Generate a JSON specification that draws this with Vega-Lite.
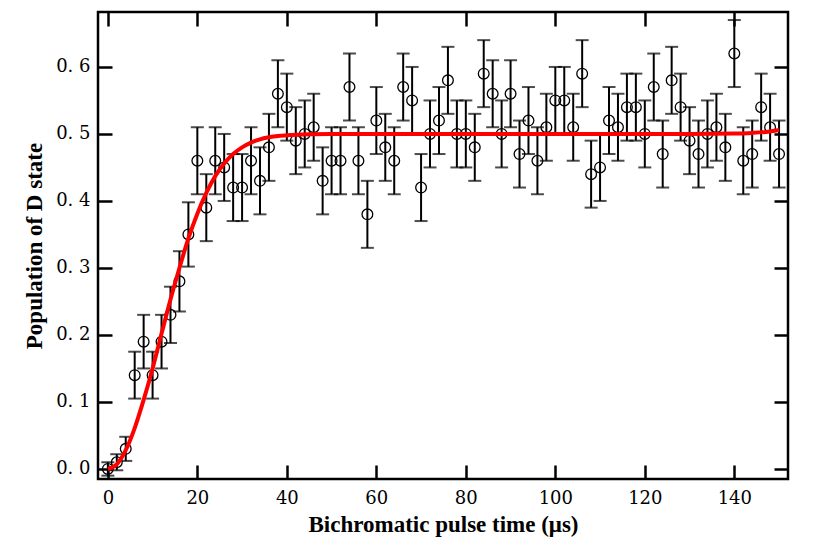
{
  "$schema": "https://vega.github.io/schema/vega-lite/v6.json",
  "width": 690,
  "height": 467,
  "autosize": "none",
  "padding": {"left": 98, "top": 12, "right": 42, "bottom": 75},
  "background": "white",
  "config": {
    "view": {"stroke": "black", "strokeWidth": 2.5},
    "axis": {
      "grid": false,
      "domain": false,
      "tickColor": "black",
      "tickWidth": 2.5,
      "tickSize": -14,
      "labelFont": "DejaVu Serif",
      "labelFontSize": 18,
      "labelColor": "black",
      "titleFont": "Liberation Serif",
      "titleFontWeight": "bold",
      "titleFontSize": 23,
      "titleColor": "black"
    }
  },
  "datasets": {
    "pts": [
      {"t": 0, "p": 0.00, "lo": -0.01, "hi": 0.01},
      {"t": 2, "p": 0.01, "lo": -0.002, "hi": 0.022},
      {"t": 4, "p": 0.03, "lo": 0.012, "hi": 0.048},
      {"t": 6, "p": 0.14, "lo": 0.105, "hi": 0.175},
      {"t": 8, "p": 0.19, "lo": 0.15, "hi": 0.23},
      {"t": 10, "p": 0.14, "lo": 0.105, "hi": 0.175},
      {"t": 12, "p": 0.19, "lo": 0.15, "hi": 0.23},
      {"t": 14, "p": 0.23, "lo": 0.188, "hi": 0.272},
      {"t": 16, "p": 0.28, "lo": 0.235, "hi": 0.325},
      {"t": 18, "p": 0.35, "lo": 0.302, "hi": 0.398},
      {"t": 20, "p": 0.46, "lo": 0.41, "hi": 0.51},
      {"t": 22, "p": 0.39, "lo": 0.34, "hi": 0.44},
      {"t": 24, "p": 0.46, "lo": 0.41, "hi": 0.51},
      {"t": 26, "p": 0.45, "lo": 0.40, "hi": 0.50},
      {"t": 28, "p": 0.42, "lo": 0.37, "hi": 0.47},
      {"t": 30, "p": 0.42, "lo": 0.37, "hi": 0.47},
      {"t": 32, "p": 0.46, "lo": 0.41, "hi": 0.51},
      {"t": 34, "p": 0.43, "lo": 0.38, "hi": 0.48},
      {"t": 36, "p": 0.48, "lo": 0.43, "hi": 0.53},
      {"t": 38, "p": 0.56, "lo": 0.51, "hi": 0.61},
      {"t": 40, "p": 0.54, "lo": 0.49, "hi": 0.59},
      {"t": 42, "p": 0.49, "lo": 0.44, "hi": 0.54},
      {"t": 44, "p": 0.50, "lo": 0.45, "hi": 0.55},
      {"t": 46, "p": 0.51, "lo": 0.46, "hi": 0.56},
      {"t": 48, "p": 0.43, "lo": 0.38, "hi": 0.48},
      {"t": 50, "p": 0.46, "lo": 0.41, "hi": 0.51},
      {"t": 52, "p": 0.46, "lo": 0.41, "hi": 0.51},
      {"t": 54, "p": 0.57, "lo": 0.52, "hi": 0.62},
      {"t": 56, "p": 0.46, "lo": 0.41, "hi": 0.51},
      {"t": 58, "p": 0.38, "lo": 0.33, "hi": 0.43},
      {"t": 60, "p": 0.52, "lo": 0.47, "hi": 0.57},
      {"t": 62, "p": 0.48, "lo": 0.43, "hi": 0.53},
      {"t": 64, "p": 0.46, "lo": 0.41, "hi": 0.51},
      {"t": 66, "p": 0.57, "lo": 0.52, "hi": 0.62},
      {"t": 68, "p": 0.55, "lo": 0.50, "hi": 0.60},
      {"t": 70, "p": 0.42, "lo": 0.37, "hi": 0.47},
      {"t": 72, "p": 0.50, "lo": 0.45, "hi": 0.55},
      {"t": 74, "p": 0.52, "lo": 0.47, "hi": 0.57},
      {"t": 76, "p": 0.58, "lo": 0.53, "hi": 0.63},
      {"t": 78, "p": 0.50, "lo": 0.45, "hi": 0.55},
      {"t": 80, "p": 0.50, "lo": 0.45, "hi": 0.55},
      {"t": 82, "p": 0.48, "lo": 0.43, "hi": 0.53},
      {"t": 84, "p": 0.59, "lo": 0.54, "hi": 0.64},
      {"t": 86, "p": 0.56, "lo": 0.51, "hi": 0.61},
      {"t": 88, "p": 0.50, "lo": 0.45, "hi": 0.55},
      {"t": 90, "p": 0.56, "lo": 0.51, "hi": 0.61},
      {"t": 92, "p": 0.47, "lo": 0.42, "hi": 0.52},
      {"t": 94, "p": 0.52, "lo": 0.47, "hi": 0.57},
      {"t": 96, "p": 0.46, "lo": 0.41, "hi": 0.51},
      {"t": 98, "p": 0.51, "lo": 0.46, "hi": 0.56},
      {"t": 100, "p": 0.55, "lo": 0.50, "hi": 0.60},
      {"t": 102, "p": 0.55, "lo": 0.50, "hi": 0.60},
      {"t": 104, "p": 0.51, "lo": 0.46, "hi": 0.56},
      {"t": 106, "p": 0.59, "lo": 0.54, "hi": 0.64},
      {"t": 108, "p": 0.44, "lo": 0.39, "hi": 0.49},
      {"t": 110, "p": 0.45, "lo": 0.40, "hi": 0.50},
      {"t": 112, "p": 0.52, "lo": 0.47, "hi": 0.57},
      {"t": 114, "p": 0.51, "lo": 0.46, "hi": 0.56},
      {"t": 116, "p": 0.54, "lo": 0.49, "hi": 0.59},
      {"t": 118, "p": 0.54, "lo": 0.49, "hi": 0.59},
      {"t": 120, "p": 0.50, "lo": 0.45, "hi": 0.55},
      {"t": 122, "p": 0.57, "lo": 0.52, "hi": 0.62},
      {"t": 124, "p": 0.47, "lo": 0.42, "hi": 0.52},
      {"t": 126, "p": 0.58, "lo": 0.53, "hi": 0.63},
      {"t": 128, "p": 0.54, "lo": 0.49, "hi": 0.59},
      {"t": 130, "p": 0.49, "lo": 0.44, "hi": 0.54},
      {"t": 132, "p": 0.47, "lo": 0.42, "hi": 0.52},
      {"t": 134, "p": 0.50, "lo": 0.45, "hi": 0.55},
      {"t": 136, "p": 0.51, "lo": 0.46, "hi": 0.56},
      {"t": 138, "p": 0.48, "lo": 0.43, "hi": 0.53},
      {"t": 140, "p": 0.62, "lo": 0.57, "hi": 0.67},
      {"t": 142, "p": 0.46, "lo": 0.41, "hi": 0.51},
      {"t": 144, "p": 0.47, "lo": 0.42, "hi": 0.52},
      {"t": 146, "p": 0.54, "lo": 0.49, "hi": 0.59},
      {"t": 148, "p": 0.51, "lo": 0.46, "hi": 0.56},
      {"t": 150, "p": 0.47, "lo": 0.42, "hi": 0.52}
    ],
    "fit": [
      {"t": 0, "f": 0.0},
      {"t": 2, "f": 0.007},
      {"t": 4, "f": 0.028},
      {"t": 6, "f": 0.061},
      {"t": 8, "f": 0.103},
      {"t": 10, "f": 0.150},
      {"t": 12, "f": 0.202},
      {"t": 14, "f": 0.253},
      {"t": 16, "f": 0.300},
      {"t": 18, "f": 0.344},
      {"t": 20, "f": 0.381},
      {"t": 22, "f": 0.412},
      {"t": 24, "f": 0.437},
      {"t": 26, "f": 0.456},
      {"t": 28, "f": 0.470},
      {"t": 30, "f": 0.480},
      {"t": 32, "f": 0.487},
      {"t": 34, "f": 0.492},
      {"t": 36, "f": 0.495},
      {"t": 38, "f": 0.497},
      {"t": 40, "f": 0.498},
      {"t": 45, "f": 0.4995},
      {"t": 50, "f": 0.5},
      {"t": 70, "f": 0.5},
      {"t": 90, "f": 0.5},
      {"t": 110, "f": 0.5},
      {"t": 130, "f": 0.5},
      {"t": 140, "f": 0.5005},
      {"t": 144, "f": 0.5015},
      {"t": 147, "f": 0.503},
      {"t": 150, "f": 0.506}
    ]
  },
  "layer": [
    {
      "data": {"name": "pts"},
      "mark": {"type": "rule", "color": "black", "strokeWidth": 2},
      "encoding": {
        "x": {"field": "t", "type": "quantitative", "scale": {"domain": [-2.2, 152], "nice": false, "zero": false},
              "axis": {"orient": "top", "labels": false, "title": null, "values": [0, 20, 40, 60, 80, 100, 120, 140]}},
        "y": {"field": "lo", "type": "quantitative", "scale": {"domain": [-0.015, 0.682], "nice": false, "zero": false},
              "axis": {"orient": "right", "labels": false, "title": null, "values": [0, 0.1, 0.2, 0.3, 0.4, 0.5, 0.6]}},
        "y2": {"field": "hi"}
      }
    },
    {
      "data": {"name": "pts"},
      "mark": {"type": "tick", "orient": "horizontal", "color": "black", "size": 13, "thickness": 2},
      "encoding": {
        "x": {"field": "t", "type": "quantitative", "axis": null},
        "y": {"field": "lo", "type": "quantitative", "axis": null}
      }
    },
    {
      "data": {"name": "pts"},
      "mark": {"type": "tick", "orient": "horizontal", "color": "black", "size": 13, "thickness": 2},
      "encoding": {
        "x": {"field": "t", "type": "quantitative", "axis": null},
        "y": {"field": "hi", "type": "quantitative", "axis": null}
      }
    },
    {
      "data": {"name": "pts"},
      "mark": {"type": "point", "shape": "circle", "filled": false, "stroke": "black", "strokeWidth": 1.3, "size": 115, "opacity": 1},
      "encoding": {
        "x": {"field": "t", "type": "quantitative",
              "axis": {"orient": "bottom", "title": "Bichromatic pulse time (μs)", "values": [0, 20, 40, 60, 80, 100, 120, 140], "labelPadding": 24, "titlePadding": 6}},
        "y": {"field": "p", "type": "quantitative",
              "axis": {"orient": "left", "title": "Population of D state", "values": [0, 0.1, 0.2, 0.3, 0.4, 0.5, 0.6],
                       "labelExpr": "replace(format(datum.value, '.1f'), '.', '. ')", "labelPadding": 22, "titlePadding": 9}}
      }
    },
    {
      "data": {"name": "fit"},
      "mark": {"type": "line", "color": "#ff0000", "strokeWidth": 4, "interpolate": "monotone"},
      "encoding": {
        "x": {"field": "t", "type": "quantitative", "axis": null},
        "y": {"field": "f", "type": "quantitative", "axis": null}
      }
    }
  ]
}
